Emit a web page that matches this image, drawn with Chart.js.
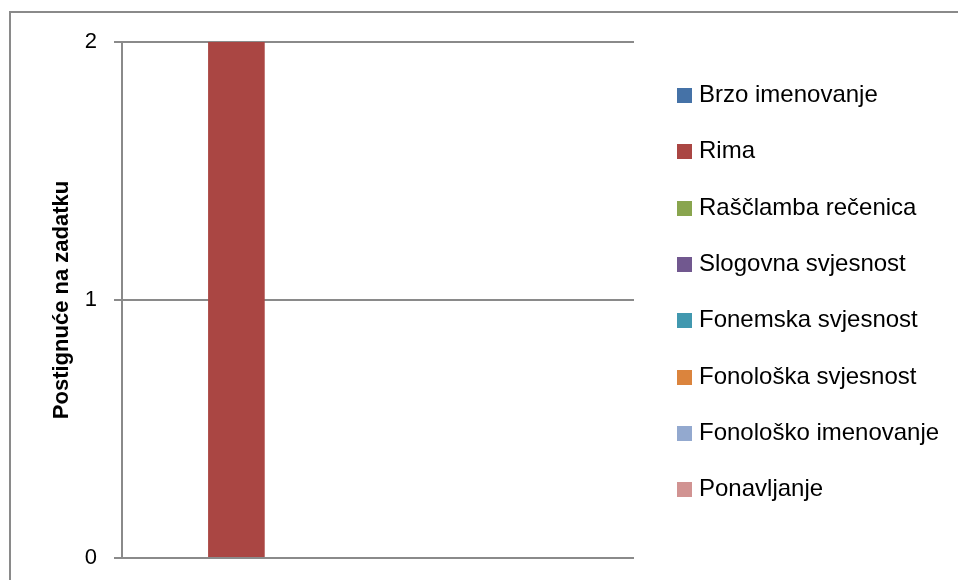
<!DOCTYPE html>
<html>
<head>
<meta charset="utf-8">
<script src="https://cdn.jsdelivr.net/npm/chart.js@4/dist/chart.umd.min.js"></script>
<style>
  body { margin: 0; background: #fff; overflow: hidden; }
  #wrap { position: relative; width: 958px; height: 580px; }
  #frame { position: absolute; left: 9px; top: 11px; width: 1000px; height: 700px; border: 2px solid #8a8a8a; box-sizing: border-box; pointer-events: none; }
  canvas { position: absolute; left: 0; top: 0; }
</style>
</head>
<body>
<div id="wrap">
  <canvas id="chart" width="958" height="580"></canvas>
  <div id="frame"></div>
</div>
<script>
const categories = [''];
const seriesNames = ['Brzo imenovanje', 'Rima', 'Raščlamba rečenica', 'Slogovna svjesnost',
                     'Fonemska svjesnost', 'Fonološka svjesnost', 'Fonološko imenovanje', 'Ponavljanje'];
const seriesValues = [[0], [2], [0], [0], [0], [0], [0], [0]];
const seriesColors = ['#4572A7', '#AA4643', '#89A54E', '#71588F', '#4198AF', '#DB843D', '#93A9CF', '#D19392'];
const yTicks = [0, 1, 2];
const yTitle = 'Postignuće na zadatku';

const FONT = '"Liberation Sans", Arial, sans-serif';
const GRID = '#8a8a8a';

// legend drawn on the right, box + label per series
const sideLegend = {
    id: 'sideLegend',
    afterDraw(chart) {
        const ctx = chart.ctx;
        ctx.save();
        ctx.font = '24px ' + FONT;
        ctx.textBaseline = 'middle';
        ctx.textAlign = 'left';
        chart.data.datasets.forEach((ds, i) => {
            const cy = 95.5 + i * 56.3;
            ctx.fillStyle = ds.backgroundColor;
            ctx.fillRect(677, Math.round(cy - 7.5), 15, 15);
            ctx.fillStyle = '#000';
            ctx.fillText(ds.label, 699, cy);
        });
        ctx.restore();
    }
};

new Chart(document.getElementById('chart'), {
    type: 'bar',
    data: {
        labels: categories,
        datasets: seriesNames.map((name, i) => ({
            label: name,
            data: seriesValues[i],
            backgroundColor: seriesColors[i],
            borderWidth: 0,
            categoryPercentage: 0.885,
            barPercentage: 1
        }))
    },
    options: {
        responsive: false,
        animation: false,
        devicePixelRatio: 1,
        layout: { padding: { left: 0, top: 42, right: 324, bottom: 22 } },
        plugins: { legend: { display: false }, tooltip: { enabled: false } },
        scales: {
            x: { display: false },
            y: {
                min: 0,
                max: 2,
                afterBuildTicks: (s) => { s.ticks = yTicks.map(v => ({ value: v })); },
                afterFit: (s) => { s.width = 122; s.paddingTop = 0; s.paddingBottom = 0; },
                ticks: { color: '#000', font: { family: FONT, size: 22 }, padding: 17 },
                grid: { color: GRID, lineWidth: 2, tickLength: 8, drawTicks: true },
                border: { color: GRID, width: 2 },
                title: {
                    display: true,
                    text: yTitle,
                    color: '#000',
                    font: { family: FONT, size: 22, weight: 'bold' },
                    padding: { top: 49, bottom: 0 }
                }
            }
        }
    },
    plugins: [sideLegend]
});
</script>
</body>
</html>
